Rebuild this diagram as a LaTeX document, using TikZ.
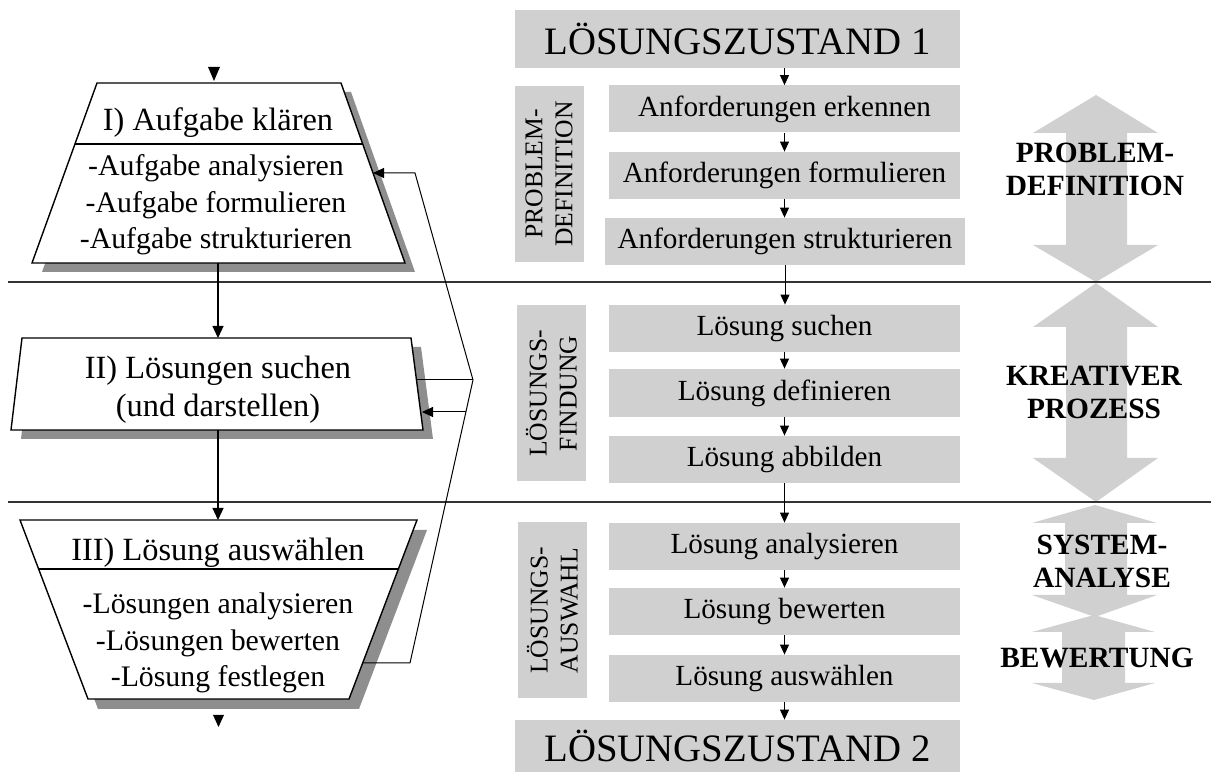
\documentclass[tikz,border=0pt]{standalone}
\usepackage{fontspec}
\setmainfont{Liberation Serif}
\usetikzlibrary{arrows.meta}
\definecolor{boxgray}{HTML}{D0D0D0}
\definecolor{shadowgray}{HTML}{8E8E8E}

\begin{document}
\begin{tikzpicture}[x=0.5pt, y=-0.5pt,
  zustand/.style={fill=boxgray, inner sep=0pt, minimum width=222.5pt, font=\fontsize{19.4}{22}\selectfont},
  stepbox/.style={fill=boxgray, inner sep=0pt, minimum width=175.5pt, minimum height=23.5pt, font=\fontsize{14.6}{17}\selectfont},
  phasebox/.style={fill=boxgray, inner sep=0pt, rotate=90, align=center, minimum width=88pt, minimum height=34.5pt, font=\fontsize{12.8}{15}\selectfont},
  phasename/.style={align=center, font=\bfseries\fontsize{14.7}{16.5}\selectfont},
  headtext/.style={align=center, font=\fontsize{16.2}{19}\selectfont},
  itemtext/.style={align=center, font=\fontsize{14.9}{18.3}\selectfont},
  shadow/.style={fill=shadowgray},
  taskbox/.style={draw, fill=white, line width=0.7pt},
  flow/.style={line width=0.65pt, -{Triangle[length=6pt,width=5.5pt]}},
  stepflow/.style={line width=0.5pt, -{Triangle[length=5pt,width=4.5pt]}},
  backflow/.style={line width=0.5pt, -{Triangle[length=5.5pt,width=5pt]}},
  sep/.style={line width=0.6pt, black!80}]

  \useasboundingbox (0,0) rectangle (1211,774);

  % grosse Doppelpfeile rechts
  \fill[boxgray] (1096,95) -- (1158,133) -- (1127,133) -- (1127,245) -- (1158,245)
    -- (1096,282) -- (1033,245) -- (1066,245) -- (1066,133) -- (1033,133) -- cycle;
  \fill[boxgray] (1096,283) -- (1158,327) -- (1127,327) -- (1127,458) -- (1158,458)
    -- (1096,502) -- (1033,458) -- (1066,458) -- (1066,327) -- (1033,327) -- cycle;
  \fill[boxgray] (1095,505) -- (1157,523) -- (1127,523) -- (1127,595) -- (1157,595)
    -- (1095,617) -- (1032,595) -- (1065,595) -- (1065,523) -- (1032,523) -- cycle;
  \fill[boxgray] (1094,615) -- (1155,632) -- (1125,632) -- (1125,683) -- (1155,683)
    -- (1094,700) -- (1032,683) -- (1062,683) -- (1062,632) -- (1032,632) -- cycle;

  % Trennlinien
  \draw[sep] (8,282) -- (1211,282);
  \draw[sep] (8,502) -- (1211,502);

  % Schatten der Kaesten links
  \fill[shadow] (107,92) -- (351,92) -- (415,272) -- (42,272) -- cycle;
  \fill[shadow] (32,347) -- (421,347) -- (433,439) -- (21,439) -- cycle;
  \fill[shadow] (30,530) -- (427,530) -- (359,709) -- (98,709) -- cycle;

  % Kaesten links
  \draw[taskbox] (97,83) -- (341,83) -- (405,263) -- (32,263) -- cycle;
  \draw[line width=0.7pt] (75,144) -- (363,144);
  \draw[taskbox] (22,338) -- (411,338) -- (423,430) -- (11,430) -- cycle;
  \draw[taskbox] (20,520) -- (417,520) -- (349,699) -- (88,699) -- cycle;
  \draw[line width=0.7pt] (39,569) -- (399,569);

  % Eingang / Ausgang
  \fill (208,67) -- (220,67) -- (214,81) -- cycle;
  \fill (213,715) -- (224,715) -- (218.5,727) -- cycle;

  \node[headtext] (t1) at (218,123) {I) Aufgabe klären};
  \node[itemtext] (t1list) at (216,205) {-Aufgabe analysieren\\-Aufgabe formulieren\\-Aufgabe strukturieren};
  \node[headtext] (t2) at (218,390) {II) Lösungen suchen\\(und darstellen)};
  \node[headtext] (t3) at (218,553) {III) Lösung auswählen};
  \node[itemtext] (t3list) at (218,643) {-Lösungen analysieren\\-Lösungen bewerten\\-Lösung festlegen};

  \coordinate (b1s) at (218,263);
  \coordinate (b2n) at (218,338);
  \coordinate (b2s) at (218,430);
  \coordinate (b3n) at (218,520);
  \draw[flow] (b1s) -- (b2n);
  \draw[flow] (b2s) -- (b3n);

  % Rueckkopplung
  \coordinate (b1in) at (373,173);
  \coordinate (fb1) at (415,173);
  \coordinate (fbv) at (473,380);
  \coordinate (b2out) at (417,380);
  \coordinate (fb2) at (466,412);
  \coordinate (b2in) at (422,412);
  \coordinate (fb3) at (410,663);
  \coordinate (b3out) at (363,663);
  \draw[backflow] (b3out) -- (fb3) -- (fbv) -- (fb1) -- (b1in);
  \draw[line width=0.5pt] (b2out) -- (fbv);
  \draw[backflow] (fb2) -- (b2in);

  % rechte Spalte
  \node[zustand, minimum height=29pt] (z1) at (737.5,39) {LÖSUNGSZUSTAND 1};
  \node[stepbox] (a1) at (784.5,109) {Anforderungen erkennen};
  \node[stepbox] (a2) at (784.5,175.5) {Anforderungen formulieren};
  \node[stepbox, minimum width=180pt] (a3) at (785,241.5) {Anforderungen strukturieren};
  \node[phasebox] (pd) at (549,174) {PROBLEM-\\DEFINITION};

  \node[stepbox] (l1) at (784.5,328.5) {Lösung suchen};
  \node[stepbox, minimum height=24pt] (l2) at (784.5,393) {Lösung definieren};
  \node[stepbox] (l3) at (784.5,459.5) {Lösung abbilden};
  \node[phasebox] (lf) at (551.5,393.5) {LÖSUNGS-\\FINDUNG};

  \node[stepbox] (s1) at (784.5,546.5) {Lösung analysieren};
  \node[stepbox] (s2) at (784.5,611.5) {Lösung bewerten};
  \node[stepbox] (s3) at (784.5,678.5) {Lösung auswählen};
  \node[phasebox] (la) at (552.5,610.5) {LÖSUNGS-\\AUSWAHL};
  \node[zustand, minimum height=26pt] (z2) at (737.5,746) {LÖSUNGSZUSTAND 2};

  \draw[stepflow] (a1.north |- z1.south) -- (a1.north);
  \draw[stepflow] (a1.south) -- (a2.north);
  \draw[stepflow] (a2.south) -- (a2.south |- a3.north);
  \draw[stepflow] (a3.south) -- (a3.south |- l1.north);
  \draw[stepflow] (l1.south) -- (l2.north);
  \draw[stepflow] (l2.south) -- (l3.north);
  \draw[stepflow] (l3.south) -- (s1.north);
  \draw[stepflow] (s1.south) -- (s2.north);
  \draw[stepflow] (s2.south) -- (s3.north);
  \draw[stepflow] (s3.south) -- (s3.south |- z2.north);

  \node[phasename] (n1) at (1095,169) {PROBLEM-\\DEFINITION};
  \node[phasename] (n2) at (1094,392) {KREATIVER\\PROZESS};
  \node[phasename] (n3) at (1102,561) {SYSTEM-\\ANALYSE};
  \node[phasename] (n4) at (1097,658) {BEWERTUNG};
\end{tikzpicture}
\end{document}
